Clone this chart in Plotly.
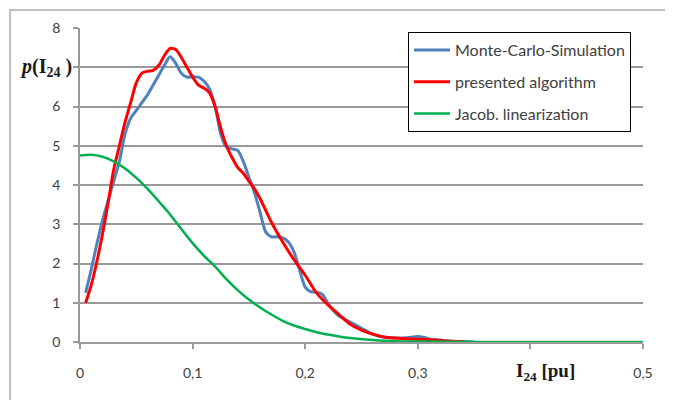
import plotly.graph_objects as go

# Monte-Carlo-Simulation
mc_x = [0.005, 0.01, 0.015, 0.02, 0.025, 0.03, 0.035, 0.04, 0.045, 0.05, 0.055, 0.06, 0.065, 0.07,
        0.075, 0.08, 0.085, 0.09, 0.095, 0.10, 0.105, 0.11, 0.115, 0.12, 0.125, 0.13, 0.135, 0.14,
        0.145, 0.15, 0.155, 0.16, 0.165, 0.17, 0.175, 0.18, 0.185, 0.19, 0.195, 0.20, 0.205, 0.21,
        0.215, 0.22, 0.225, 0.23, 0.24, 0.25, 0.26, 0.27, 0.28, 0.29, 0.30, 0.305, 0.31, 0.32, 0.33,
        0.34, 0.35]
mc_y = [1.25, 1.85, 2.5, 3.1, 3.6, 4.1, 4.6, 5.3, 5.7, 5.9, 6.1, 6.3, 6.55, 6.8,
        7.05, 7.27, 7.1, 6.85, 6.75, 6.76, 6.75, 6.65, 6.45, 6.0, 5.3, 4.97, 4.92, 4.88,
        4.6, 4.2, 3.8, 3.3, 2.8, 2.68, 2.68, 2.65, 2.55, 2.3, 1.84, 1.4, 1.28, 1.27,
        1.22, 1.0, 0.8, 0.66, 0.51, 0.35, 0.2, 0.12, 0.1, 0.11, 0.14, 0.12, 0.08, 0.05, 0.02,
        0.01, 0.0]

# presented algorithm
pa_x = [0.005, 0.01, 0.015, 0.02, 0.025, 0.03, 0.035, 0.04, 0.045, 0.05, 0.055, 0.06, 0.065, 0.07,
        0.075, 0.08, 0.085, 0.09, 0.095, 0.10, 0.105, 0.11, 0.115, 0.12, 0.125, 0.13, 0.135, 0.14,
        0.145, 0.15, 0.155, 0.16, 0.17, 0.18, 0.19, 0.20, 0.21, 0.22, 0.23, 0.24, 0.25, 0.26,
        0.27, 0.28, 0.29, 0.30, 0.31, 0.32, 0.33, 0.34]
pa_y = [1.0, 1.45, 2.05, 2.75, 3.55, 4.4, 5.0, 5.6, 6.1, 6.6, 6.85, 6.9, 6.92, 7.05,
        7.3, 7.48, 7.45, 7.25, 7.0, 6.75, 6.55, 6.47, 6.35, 6.0, 5.45, 5.0, 4.7, 4.45,
        4.3, 4.1, 3.9, 3.65, 3.05, 2.55, 2.1, 1.7, 1.25, 0.95, 0.7, 0.45, 0.3, 0.2,
        0.13, 0.1, 0.08, 0.07, 0.06, 0.04, 0.02, 0.01]

# Jacob. linearization
jl_x = [0.0, 0.01, 0.02, 0.03, 0.04, 0.05, 0.06, 0.07, 0.08, 0.09, 0.10, 0.11, 0.12, 0.13,
        0.14, 0.15, 0.16, 0.17, 0.18, 0.19, 0.20, 0.21, 0.22, 0.23, 0.24, 0.26, 0.28, 0.30,
        0.35, 0.40, 0.45, 0.50]
jl_y = [4.75, 4.77, 4.72, 4.60, 4.42, 4.18, 3.90, 3.58, 3.25, 2.88, 2.52, 2.20, 1.92, 1.60,
        1.32, 1.08, 0.88, 0.70, 0.54, 0.42, 0.33, 0.25, 0.19, 0.14, 0.10, 0.05, 0.02, 0.01,
        0.0, 0.0, 0.0, 0.0]

x_tickvals = [0, 0.1, 0.2, 0.3, 0.4, 0.5]
x_ticktext = ["0", "0,1", "0,2", "0,3", "", "0,5"]
y_tickvals = [0, 1, 2, 3, 4, 5, 6, 7, 8]
y_ticktext = ["0", "1", "2", "3", "4", "5", "6", "", "8"]

fig = go.Figure()
fig.add_trace(go.Scatter(x=mc_x, y=mc_y, mode="lines", name="Monte-Carlo-Simulation",
                         line=dict(color="#4F81BD", width=3, shape="spline", smoothing=0.8),
                         legendgroup="a"))
fig.add_trace(go.Scatter(x=pa_x, y=pa_y, mode="lines", name="presented algorithm",
                         line=dict(color="#FF0000", width=3, shape="spline", smoothing=0.8),
                         legendgroup="b"))
fig.add_trace(go.Scatter(x=jl_x, y=jl_y, mode="lines", name="Jacob. linearization",
                         line=dict(color="#00B050", width=2.5, shape="spline", smoothing=0.8),
                         legendgroup="c"))

grid = "#999999"
tickfont = dict(family="Lato, Open Sans, sans-serif", size=14, color="#404040")

fig.update_layout(
    width=665, height=392,
    margin=dict(l=72, r=30, t=20, b=58),
    paper_bgcolor="white", plot_bgcolor="white",
    showlegend=True,
    legend=dict(x=0.5826, y=0.987, xanchor="left", yanchor="top",
                bgcolor="white", bordercolor="black", borderwidth=1,
                font=dict(family="Lato, Open Sans, sans-serif", size=16, color="#404040"),
                tracegroupgap=8, itemwidth=36, traceorder="grouped"),
    xaxis=dict(range=[0, 0.5], tickvals=x_tickvals, ticktext=x_ticktext,
               showgrid=False, zeroline=False, showline=True, linecolor=grid, linewidth=1.5,
               ticks="outside", ticklen=5, tickcolor=grid, tickwidth=1.5,
               tickfont=tickfont, ticklabelstandoff=12),
    yaxis=dict(range=[0, 8], tickvals=y_tickvals, ticktext=y_ticktext,
               showgrid=True, gridcolor=grid, gridwidth=1.5, zeroline=False,
               showline=True, linecolor=grid, linewidth=1.5,
               ticks="outside", ticklen=5, tickcolor=grid, tickwidth=1.5,
               tickfont=tickfont, ticklabelstandoff=10),
    shapes=[dict(type="rect", xref="paper", yref="paper",
                 x0=-0.1243, x1=1.048, y0=-0.25, y1=1.057,
                 line=dict(color="#BFBFBF", width=2), fillcolor="rgba(0,0,0,0)", layer="below")],
    annotations=[
        dict(xref="paper", yref="y", x=-0.011, y=7, xanchor="right", yanchor="middle",
             text="<b><i>p</i>(I<sub>24</sub> )</b>", showarrow=False,
             font=dict(family="Liberation Serif, serif", size=20, color="#1a1a1a")),
        dict(xref="x", yref="paper", x=0.413, y=-0.095, xanchor="center", yanchor="middle",
             text="<b>I<sub>24</sub> [pu]</b>", showarrow=False,
             font=dict(family="Liberation Serif, serif", size=19, color="#1a1a1a")),
    ],
)

fig.write_html("out.html")
